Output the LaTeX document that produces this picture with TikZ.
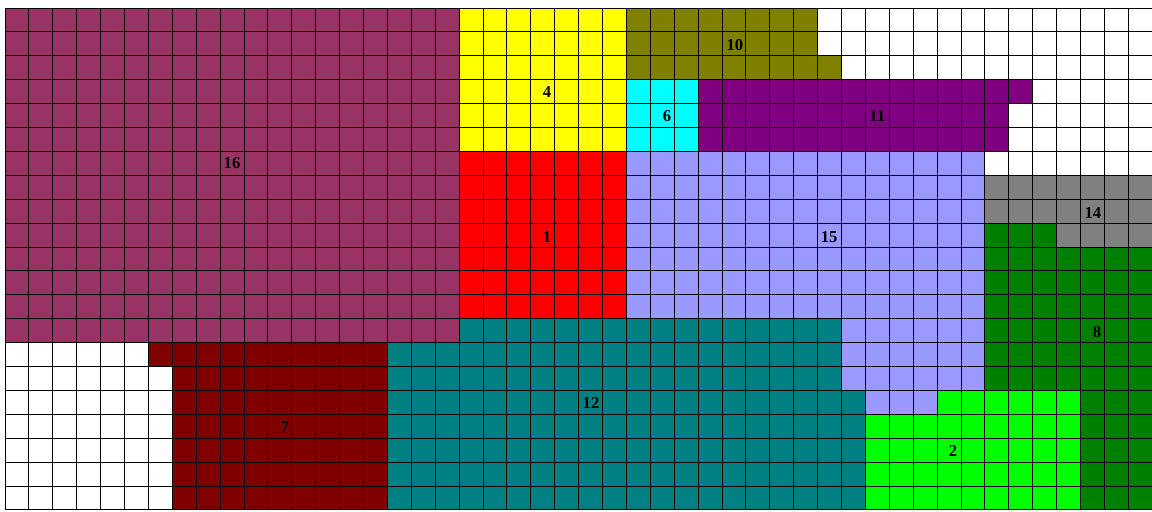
\documentclass[tikz,border=0pt]{standalone}
\usepackage{fontspec}
\setmainfont{Liberation Serif}
\definecolor{cplum}{HTML}{993366}
\definecolor{cyel}{HTML}{FFFF00}
\definecolor{colive}{HTML}{808000}
\definecolor{ccyan}{HTML}{00FFFF}
\definecolor{cpurp}{HTML}{800080}
\definecolor{cred}{HTML}{FF0000}
\definecolor{clav}{HTML}{9999FF}
\definecolor{cgray}{HTML}{808080}
\definecolor{cdgreen}{HTML}{008000}
\definecolor{cteal}{HTML}{008080}
\definecolor{cmaroon}{HTML}{800000}
\definecolor{clime}{HTML}{00FF00}
\tikzset{lbl/.style={font=\fontsize{12.5}{14}\selectfont\bfseries, inner sep=0pt},
  gridline/.style={black, line width=0.75pt}}
\begin{document}
\begin{tikzpicture}[x=0.75pt,y=-0.75pt]
\useasboundingbox (0,0) rectangle (1152,511);
\fill[white] (0,0) rectangle (1152,511);
\clip (0,0) rectangle (1152,511);
\begin{scope}[shift={(5,8)}, x=17.925pt, y=-17.925pt]
% region 16
\fill[cplum] (0,0) rectangle (19,14);
% region 4
\fill[cyel] (19,0) rectangle (26,6);
% region 10
\fill[colive] (26,0) rectangle (34,2);
\fill[colive] (26,2) rectangle (35,3);
% region 6
\fill[ccyan] (26,3) rectangle (29,6);
% region 11
\fill[cpurp] (29,3) rectangle (43,4);
\fill[cpurp] (29,4) rectangle (42,6);
% region 1
\fill[cred] (19,6) rectangle (26,13);
% region 15
\fill[clav] (26,6) rectangle (41,13);
\fill[clav] (35,13) rectangle (41,16);
\fill[clav] (36,16) rectangle (39,17);
% region 14
\fill[cgray] (41,7) rectangle (48,9);
\fill[cgray] (44,9) rectangle (48,10);
% region 8
\fill[cdgreen] (41,9) rectangle (44,10);
\fill[cdgreen] (41,10) rectangle (48,16);
\fill[cdgreen] (45,16) rectangle (48,21);
% region 12
\fill[cteal] (19,13) rectangle (35,14);
\fill[cteal] (16,14) rectangle (35,16);
\fill[cteal] (16,16) rectangle (36,21);
% region 7
\fill[cmaroon] (6,14) rectangle (16,15);
\fill[cmaroon] (7,15) rectangle (16,21);
% region 2
\fill[clime] (39,16) rectangle (45,17);
\fill[clime] (36,17) rectangle (45,21);
% grid
\foreach \i in {0,...,48} \draw[gridline] (\i,0) -- (\i,21);
\foreach \j in {0,...,21} \draw[gridline] (0,\j) -- (48,\j);
% labels
\node[lbl] (l16) at (9.5,6.5) {16};
\node[lbl] (l4) at (22.68,3.5) {4};
\node[lbl] (l10) at (30.54,1.55) {10};
\node[lbl] (l6) at (27.7,4.52) {6};
\node[lbl] (l11) at (36.5,4.52) {11};
\node[lbl] (l1) at (22.68,9.58) {1};
\node[lbl] (l15) at (34.48,9.58) {15};
\node[lbl] (l14) at (45.52,8.58) {14};
\node[lbl] (l8) at (45.69,13.56) {8};
\node[lbl] (l12) at (24.52,16.53) {12};
\node[lbl] (l7) at (11.72,17.53) {7};
\node[lbl] (l2) at (39.67,18.54) {2};
\end{scope}
\end{tikzpicture}
\end{document}
